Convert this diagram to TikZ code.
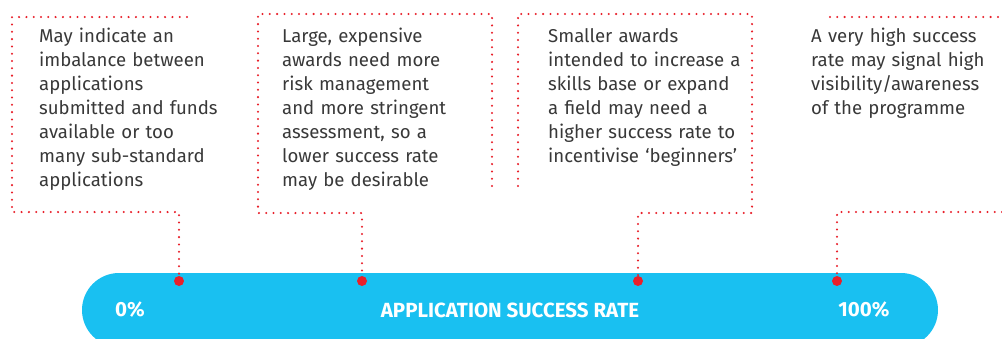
\documentclass[tikz,border=0pt]{standalone}
\usepackage{fontspec}
\setmainfont{Fira Sans}
\definecolor{barblue}{HTML}{19C0F1}
\definecolor{dotred}{HTML}{E8202A}
\definecolor{txtgrey}{HTML}{383838}
\begin{document}
\begin{tikzpicture}[x=1pt,y=-1pt,
  dotline/.style={draw=dotred,line width=2.3pt,line cap=round,dash pattern=on 0pt off 7.3pt},
  pin/.style={circle,fill=dotred,inner sep=0pt,minimum size=10pt},
  note/.style={anchor=north west,inner sep=0pt,align=left,text width=#1,text=txtgrey,
    font=\fontsize{18.6}{24}\selectfont},
  barlabel/.style={text=white,font=\fontsize{20.5}{22}\selectfont\bfseries,inner sep=0pt}]
\useasboundingbox (0,0) rectangle (1002,338);
\clip (0,0) rectangle (1002,338);
% bar
\fill[barblue,rounded corners=37pt] (82,273) rectangle (938,347);
\node[barlabel] (p0) at (130,310) {0\%};
\node[barlabel] (title) at (510,310) {APPLICATION SUCCESS RATE};
\node[barlabel] (p100) at (864,310) {100\%};
% pins
\node[pin] (d1) at (179,281) {};
\node[pin] (d2) at (362,281) {};
\node[pin] (d3) at (638,281) {};
\node[pin] (d4) at (837,281) {};
% notes
\node[note=200pt] (n1) at (39,28) {May indicate an\\imbalance between\\applications\\submitted and funds\\available or too\\many sub-standard\\applications};
\node[note=200pt] (n2) at (282,28) {Large, expensive\\awards need more\\risk management\\and more stringent\\assessment, so a\\lower success rate\\may be desirable};
\node[note=210pt] (n3) at (548,28) {Smaller awards\\intended to increase a\\skills base or expand\\a field may need a\\higher success rate to\\incentivise ‘beginners’};
\node[note=190pt] (n4) at (811,28) {A very high success\\rate may signal high\\visibility/awareness\\of the programme};
% dotted frames
\coordinate (b1) at (179,212);
\coordinate (b2) at (362,213);
\coordinate (b3) at (638,213);
\coordinate (b4) at (837,212);
\path[dotline] (187,17) -- (12,17) -- (12,212) -- (b1) -- (d1.north);
\path[dotline] (492,186) -- (492,14) -- (258,14) -- (258,213) -- (b2) -- (d2.north);
\path[dotline] (518,186) -- (518,14) -- (752,14) -- (752,213) -- (b3) -- (d3.north);
\path[dotline] (830,17) -- (1002,17);
\path[dotline] (1002,212) -- (b4) -- (d4.north);
\end{tikzpicture}
\end{document}
